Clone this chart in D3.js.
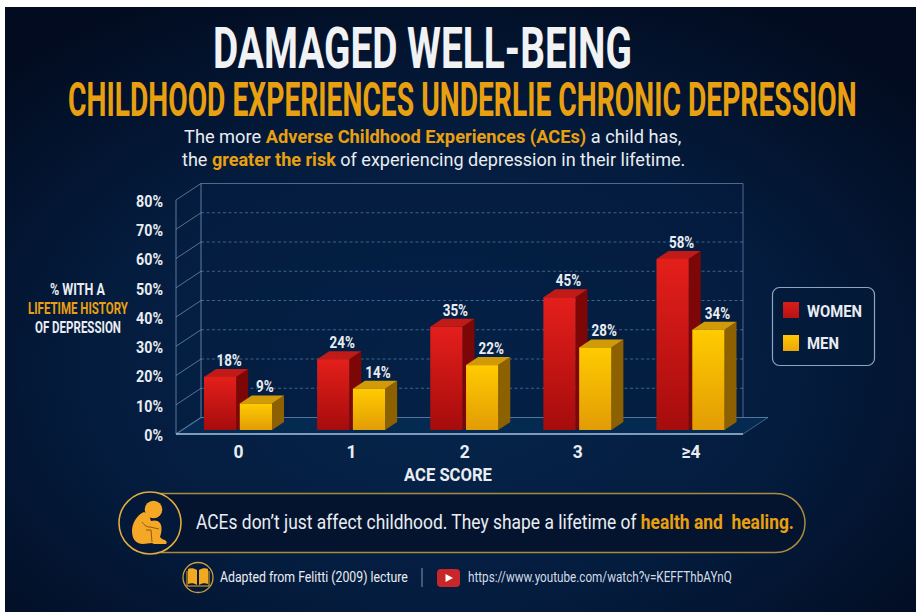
<!DOCTYPE html>
<html><head><meta charset="utf-8">
<script src="https://cdn.jsdelivr.net/npm/d3@7"></script>
<style>
html,body{margin:0;padding:0;background:#fff;overflow:hidden}
svg{display:block}
text{font-family:Roboto,"Liberation Sans",sans-serif}
</style></head><body><svg id="c" width="916" height="612"></svg>
<script>
const categories = ["0","1","2","3","≥4"];
const seriesNames = ["WOMEN","MEN"];
const women = [18,24,35,45,58];
const men = [9,14,22,28,34];
const yTicks = [0,10,20,30,40,50,60,70,80];
const GOLD = "#e9a010", WHITE = "#e9edf2";

const svg = d3.select("#c");
const defs = svg.append("defs");
const bg = defs.append("radialGradient").attr("id","bg").attr("cx","48%").attr("cy","60%").attr("r","70%");
bg.append("stop").attr("offset","0%").attr("stop-color","#06264d");
bg.append("stop").attr("offset","55%").attr("stop-color","#041c3e");
bg.append("stop").attr("offset","100%").attr("stop-color","#020b1f");
function vgrad(id,a,b){const g=defs.append("linearGradient").attr("id",id).attr("x1",0).attr("x2",0).attr("y1",0).attr("y2",1);
  g.append("stop").attr("offset","0%").attr("stop-color",a);g.append("stop").attr("offset","100%").attr("stop-color",b);}
vgrad("red","#e41f1b","#a60c0c"); vgrad("yel","#ffcb00","#e29c05");
vgrad("legR","#d81e1c","#b81212"); vgrad("legY","#ffc800","#eba50a");

svg.append("rect").attr("x",5).attr("y",7).attr("width",911).attr("height",605).attr("fill","url(#bg)");

function fit(sel,x,y,w){ // squeeze text horizontally to the width it has in the poster
  const k=w/sel.node().getComputedTextLength();
  sel.attr("text-anchor","start").attr("transform",`translate(${x},${y}) scale(${k},1)`);
  return sel;
}
function line(parts,x,y,w,size,weight){
  const t=svg.append("text").attr("font-size",size).attr("font-weight",weight||500).attr("xml:space","preserve");
  parts.forEach(p=>t.append("tspan").attr("fill",p[1]||WHITE).attr("font-weight",p[2]||null).text(p[0]));
  return fit(t,x,y,w);
}
// Titles
line([["DAMAGED WELL-BEING","#f1f2f4"]],213,67.5,419,57,700);
line([["CHILDHOOD EXPERIENCES UNDERLIE CHRONIC DEPRESSION",GOLD]],68,115.5,789,48,700);
line([["The more "],["Adverse Childhood Experiences (ACEs)",GOLD,700],[" a child has,"]],184,143,498,18.5,400);
line([["the "],["greater the risk",GOLD,700],[" of experiencing depression in their lifetime."]],182,166,504,18.5,400);

// Scales
const yFront = d3.scaleLinear().domain([0,80]).range([434,200]);
const yBar = d3.scaleLinear().domain([0,80]).range([430,194]);
const x0 = d3.scalePoint().domain(categories).range([238,690.5]);
const x1 = d3.scaleBand().domain(seriesNames).range([-34,34]).paddingInner(0.1);
const wallDX=25, wallDY=-16.5, barDX=12, barDY=-8;
const xL=176, xR=743, frontY=yFront(0), topY=yFront(80);
const lineC="#7f9fc4";

// Floor and walls
const P=a=>a.map(p=>p.join(",")).join(" ");
svg.append("polygon").attr("points",P([[xL,frontY],[xR,frontY],[xR+wallDX,frontY+wallDY],[xL+wallDX,frontY+wallDY]])).attr("fill","#052a52");
svg.append("polygon").attr("points",P([[xL+wallDX,topY+wallDY],[xR,topY+wallDY],[xR,frontY+wallDY],[xL+wallDX,frontY+wallDY]])).attr("fill","#031c40").attr("fill-opacity",.5);
const wall=svg.append("g").attr("fill","none").attr("stroke",lineC);
yTicks.forEach(v=>{
  const y=yFront(v), by=y+wallDY;
  wall.append("line").attr("x1",xL).attr("y1",y).attr("x2",xL+wallDX).attr("y2",by).attr("stroke-width",v===0?1.2:1).attr("stroke-opacity",.65);
  if(v>0&&v<80) wall.append("line").attr("x1",xL+wallDX).attr("y1",by).attr("x2",xR).attr("y2",by).attr("stroke","#4f7aa8").attr("stroke-opacity",.75).attr("stroke-dasharray","3 2.5");
});
wall.append("line").attr("x1",xL).attr("y1",topY).attr("x2",xL).attr("y2",frontY).attr("stroke-opacity",.7);
wall.append("line").attr("x1",xL+wallDX).attr("y1",topY+wallDY).attr("x2",xL+wallDX).attr("y2",frontY+wallDY).attr("stroke-opacity",.75);
wall.append("line").attr("x1",xL+wallDX).attr("y1",topY+wallDY).attr("x2",xR).attr("y2",topY+wallDY).attr("stroke-opacity",.6);
wall.append("line").attr("x1",xR).attr("y1",topY+wallDY).attr("x2",xR).attr("y2",frontY+wallDY).attr("stroke-opacity",.6);
wall.append("line").attr("x1",xL+wallDX).attr("y1",frontY+wallDY).attr("x2",xR+wallDX).attr("y2",frontY+wallDY).attr("stroke-opacity",.65);
wall.append("line").attr("x1",xR).attr("y1",frontY).attr("x2",xR+wallDX).attr("y2",frontY+wallDY).attr("stroke-opacity",.5);
wall.append("line").attr("x1",xL).attr("y1",frontY).attr("x2",xR).attr("y2",frontY).attr("stroke","#a9c3de").attr("stroke-width",1.3);

// Bars
const series=[
 {name:"WOMEN",values:women,front:"url(#red)",side:"#7d0707",top:"#c21a17"},
 {name:"MEN",values:men,front:"url(#yel)",side:"#8d6000",top:"#d39a08"}
];
const bars=svg.append("g");
categories.forEach((c,i)=>{
  series.forEach(s=>{
    const v=s.values[i], l=x0(c)+x1(s.name), w=x1.bandwidth(), r=l+w, t=yBar(v), b=yBar(0);
    const g=bars.append("g");
    g.append("polygon").attr("points",P([[r,t],[r+barDX,t+barDY],[r+barDX,b+barDY],[r,b]])).attr("fill",s.side);
    g.append("polygon").attr("points",P([[l,t],[l+barDX,t+barDY],[r+barDX,t+barDY],[r,t]])).attr("fill",s.top);
    g.append("rect").attr("x",l).attr("y",t).attr("width",w).attr("height",b-t).attr("fill",s.front);
    g.append("text").attr("fill",WHITE).attr("font-size",16).attr("font-weight",700)
      .attr("text-anchor","middle")
      .attr("transform",`translate(${l+w/2+9},${t+barDY-3}) scale(.84,1)`).text(v+"%");
  });
});

// Axes
const yAxis=svg.append("g").attr("transform",`translate(${xL},1)`)
  .call(d3.axisLeft(yFront).tickValues(yTicks).tickSize(0).tickPadding(15.5).tickFormat(d=>d+"%"));
yAxis.select(".domain").remove();
yAxis.selectAll("text").attr("fill",WHITE).attr("font-size",17).attr("font-weight",700).attr("font-family","Roboto").attr("transform","scale(.84,1)");
const xAxis=svg.append("g").attr("transform",`translate(0,${frontY})`)
  .call(d3.axisBottom(x0).tickSize(0).tickPadding(11));
xAxis.select(".domain").remove();
xAxis.selectAll("text").attr("fill",WHITE).attr("font-size",19).attr("font-weight",700).attr("font-family","Roboto").attr("transform","scale(.92,1)");
line([["ACE SCORE"]],404,481,88,19,700);

// Y axis title
line([["% WITH A"]],50,295,55,16,700);
line([["LIFETIME HISTORY",GOLD]],28,314,100,16,700);
line([["OF DEPRESSION"]],35,333,86,16,700);

// Legend
svg.append("rect").attr("x",772.5).attr("y",287.5).attr("width",102).attr("height",78).attr("rx",7)
  .attr("fill","#031a3a").attr("fill-opacity",.6).attr("stroke","#8ba6c4").attr("stroke-width",1.2);
[["WOMEN","url(#legR)",302,317,55],["MEN","url(#legY)",335,349,32]].forEach(d=>{
  svg.append("rect").attr("x",783).attr("y",d[2]).attr("width",16).attr("height",16).attr("fill",d[1]);
  line([[d[0]]],807,d[3],d[4],17,700);
});

// Callout pill
svg.append("rect").attr("x",130).attr("y",493.5).attr("width",675).attr("height",59).attr("rx",29.5)
  .attr("fill","#04142f").attr("stroke","#a98a3e").attr("stroke-width",1.5);
svg.append("circle").attr("cx",150).attr("cy",523).attr("r",31).attr("fill","#04183a").attr("stroke","#e2ad3c").attr("stroke-width",1.6);
const kid=svg.append("g").attr("transform","translate(150,523)").attr("fill","#f4a825");
kid.append("circle").attr("cx",3.5).attr("cy",-13.5).attr("r",8.8);
kid.append("path").attr("d","M-6,-11 C-13,-8 -18,0 -18,8 C-18,16 -14,21 -7,21 L2,20 L4,21 L16,21 C18,19 16,17 12,16 L10,14 C12,8 12,3 10,0 C8,-3 4,-3 1,-2 L-1,-8 Z");
kid.append("path").attr("d","M-8,-1 C-5,3 -3,4 0,4 L9,6").attr("fill","none").attr("stroke","#8a5a10").attr("stroke-width",1);
kid.append("path").attr("d","M-4,7 L1,7 L2,19").attr("fill","none").attr("stroke","#8a5a10").attr("stroke-width",1);
line([["ACEs don’t just affect childhood. They shape a lifetime of "],["health and  healing.",GOLD,700]],196,529,598,20,400);

// Footer
svg.append("circle").attr("cx",198).attr("cy",577.5).attr("r",15).attr("fill","none").attr("stroke","#c9a040").attr("stroke-width",1.3);
const book=svg.append("g").attr("transform","translate(198,578)");
book.append("path").attr("d","M-1,-8 C-4,-10 -8,-10 -10,-9 L-10,6 C-7,5 -4,5 -1,7 Z").attr("fill","#f2a922");
book.append("path").attr("d","M1,-8 C4,-10 8,-10 10,-9 L10,6 C7,5 4,5 1,7 Z").attr("fill","#f2a922");
book.append("path").attr("d","M-11,-7 L-11,8 L11,8 L11,-7").attr("fill","none").attr("stroke","#f2a922").attr("stroke-width",1);
line([["Adapted from Felitti (2009) lecture"]],220,582,188,14,400);
svg.append("line").attr("x1",422).attr("x2",422).attr("y1",568).attr("y2",587).attr("stroke","#8397ad").attr("stroke-width",1);
svg.append("rect").attr("x",437).attr("y",569).attr("width",23).attr("height",18).attr("rx",4).attr("fill","#c8272a");
svg.append("path").attr("d","M445.5,574 L453,578 L445.5,582 Z").attr("fill","#fff");
line([["https://www.youtube.com/watch?v=KEFFThbAYnQ","#d4dce6"]],468,582,264,14,400);
</script></body></html>
